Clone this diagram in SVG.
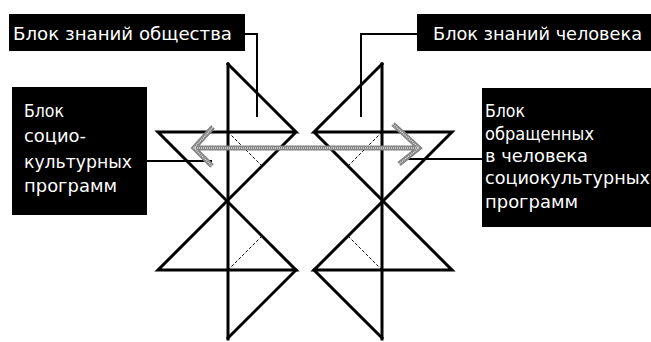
<svg xmlns="http://www.w3.org/2000/svg" width="651" height="342" viewBox="0 0 651 342">
<style>
.box{fill:#000}
.lbl{fill:#fff;font-family:"DejaVu Sans Condensed","Liberation Sans",Arial,sans-serif;font-size:17px}
.big{font-size:18px}
.thick{fill:none;stroke:#000;stroke-width:3;stroke-linejoin:miter;stroke-linecap:square}
.call{fill:none;stroke:#000;stroke-width:2}
.dash{fill:none;stroke:#000;stroke-width:1;stroke-dasharray:3 2}
.arrO{fill:none;stroke:#858585;stroke-width:5;stroke-linejoin:miter}
.arrI{fill:none;stroke:#e0e0e0;stroke-width:1.5;stroke-dasharray:1 1}
</style>
<rect width="651" height="342" fill="#fff"/>
<g id="connectors">
<polyline class="call" points="245,34 257,34 257,117"/>
<polyline class="call" points="417,34 361,34 361,117"/>
<line class="call" x1="147" y1="161" x2="212" y2="161"/>
<line class="call" x1="406" y1="159" x2="482" y2="159"/>
</g>
<g id="left-figure">
<line class="thick" x1="228" y1="64" x2="228" y2="339"/>
<polyline class="thick" points="228,64 296,132 158,132 296,270 158,270 296,132"/>
<polyline class="thick" points="296,270 228,338"/>
<line class="dash" x1="228" y1="132" x2="262" y2="166"/>
<line class="dash" x1="228" y1="270" x2="262" y2="236"/>
</g>
<g id="right-figure">
<line class="thick" x1="382" y1="64" x2="382" y2="339"/>
<polyline class="thick" points="382,64 314,132 452,132 314,270 452,270 314,132"/>
<polyline class="thick" points="314,270 382,338"/>
<line class="dash" x1="382" y1="132" x2="348" y2="166"/>
<line class="dash" x1="382" y1="270" x2="348" y2="236"/>
</g>
<g id="arrow">
<path class="arrO" d="M195,148 H419 M213,127 L194,148 L212,166 M393,124 L419,148 L399,164"/>
<path class="arrI" d="M195,148 H419 M213,127 L194,148 L212,166 M393,124 L419,148 L399,164"/>
</g>
<g id="box-society">
<rect class="box" x="9" y="14" width="236" height="37"/>
<text class="lbl big" x="13" y="40" textLength="219" lengthAdjust="spacingAndGlyphs">Блок знаний общества</text>
</g>
<g id="box-human">
<rect class="box" x="417" y="14" width="234" height="37"/>
<text class="lbl big" x="433" y="40" textLength="209" lengthAdjust="spacingAndGlyphs">Блок знаний человека</text>
</g>
<g id="box-socio">
<rect class="box" x="12" y="87" width="135" height="128"/>
<text class="lbl"><tspan x="24" y="117" textLength="40" lengthAdjust="spacingAndGlyphs">Блок</tspan><tspan x="24" y="142" textLength="62" lengthAdjust="spacingAndGlyphs">социо-</tspan><tspan x="24" y="168" textLength="108" lengthAdjust="spacingAndGlyphs">культурных</tspan><tspan x="24" y="192" textLength="93" lengthAdjust="spacingAndGlyphs">программ</tspan></text>
</g>
<g id="box-human-socio">
<rect class="box" x="482" y="88" width="169" height="139"/>
<text class="lbl"><tspan x="485" y="117" textLength="40" lengthAdjust="spacingAndGlyphs">Блок</tspan><tspan x="485" y="140" textLength="109" lengthAdjust="spacingAndGlyphs">обращенных</tspan><tspan x="485" y="162" textLength="103" lengthAdjust="spacingAndGlyphs">в человека</tspan><tspan x="485" y="184" textLength="165" lengthAdjust="spacingAndGlyphs">социокультурных</tspan><tspan x="485" y="208" textLength="93" lengthAdjust="spacingAndGlyphs">программ</tspan></text>
</g>
</svg>
